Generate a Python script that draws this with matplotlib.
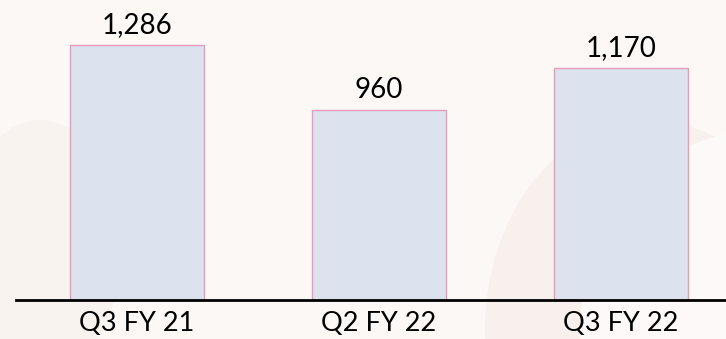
import matplotlib.pyplot as plt
from matplotlib.patches import Ellipse

# quarterly values
quarters = ['Q3 FY 21', 'Q2 FY 22', 'Q3 FY 22']
values = [1286, 960, 1170]
value_labels = ['1,286', '960', '1,170']

plt.rcParams['font.family'] = ['Lato', 'DejaVu Sans']

fig = plt.figure(figsize=(7.26, 3.39), dpi=100)
fig.patch.set_facecolor('#fbf8f6')

# faint background shapes (photo behind the chart)
bg = fig.add_axes([0, 0, 1, 1])
bg.set_xlim(0, 726)
bg.set_ylim(339, 0)
bg.axis('off')
bg.add_patch(Ellipse((650, 330), 330, 420, color='#f6ebe8', alpha=0.6, lw=0))
bg.add_patch(Ellipse((760, 330), 360, 400, color='#fdfbfa', alpha=0.9, lw=0))
bg.add_patch(Ellipse((40, 250), 160, 260, color='#f7efea', alpha=0.5, lw=0))

ax = fig.add_axes([16 / 726, 39 / 339, 710 / 726, 300 / 339])
ax.patch.set_alpha(0)
x = range(len(quarters))
bars = ax.bar(x, values, width=0.556, color='#dce3ee', edgecolor='#e69bbb', linewidth=1)

ax.set_xlim(-0.5, 2.434)
ax.set_ylim(0, 1513)

for b, lab in zip(bars, value_labels):
    ax.annotate(lab, (b.get_x() + b.get_width() / 2, b.get_height()),
                xytext=(0, 5), textcoords='offset points',
                ha='center', va='bottom', fontsize=20, color='#000000')

ax.set_xticks(list(x))
ax.set_xticklabels(quarters, fontsize=19.5, color='#000000')
ax.tick_params(axis='x', length=0, pad=8)
ax.set_yticks([])
for s in ['top', 'right', 'left']:
    ax.spines[s].set_visible(False)
ax.spines['bottom'].set_linewidth(2)
ax.spines['bottom'].set_color('black')

fig.savefig('out.png', dpi=100, facecolor=fig.get_facecolor())
